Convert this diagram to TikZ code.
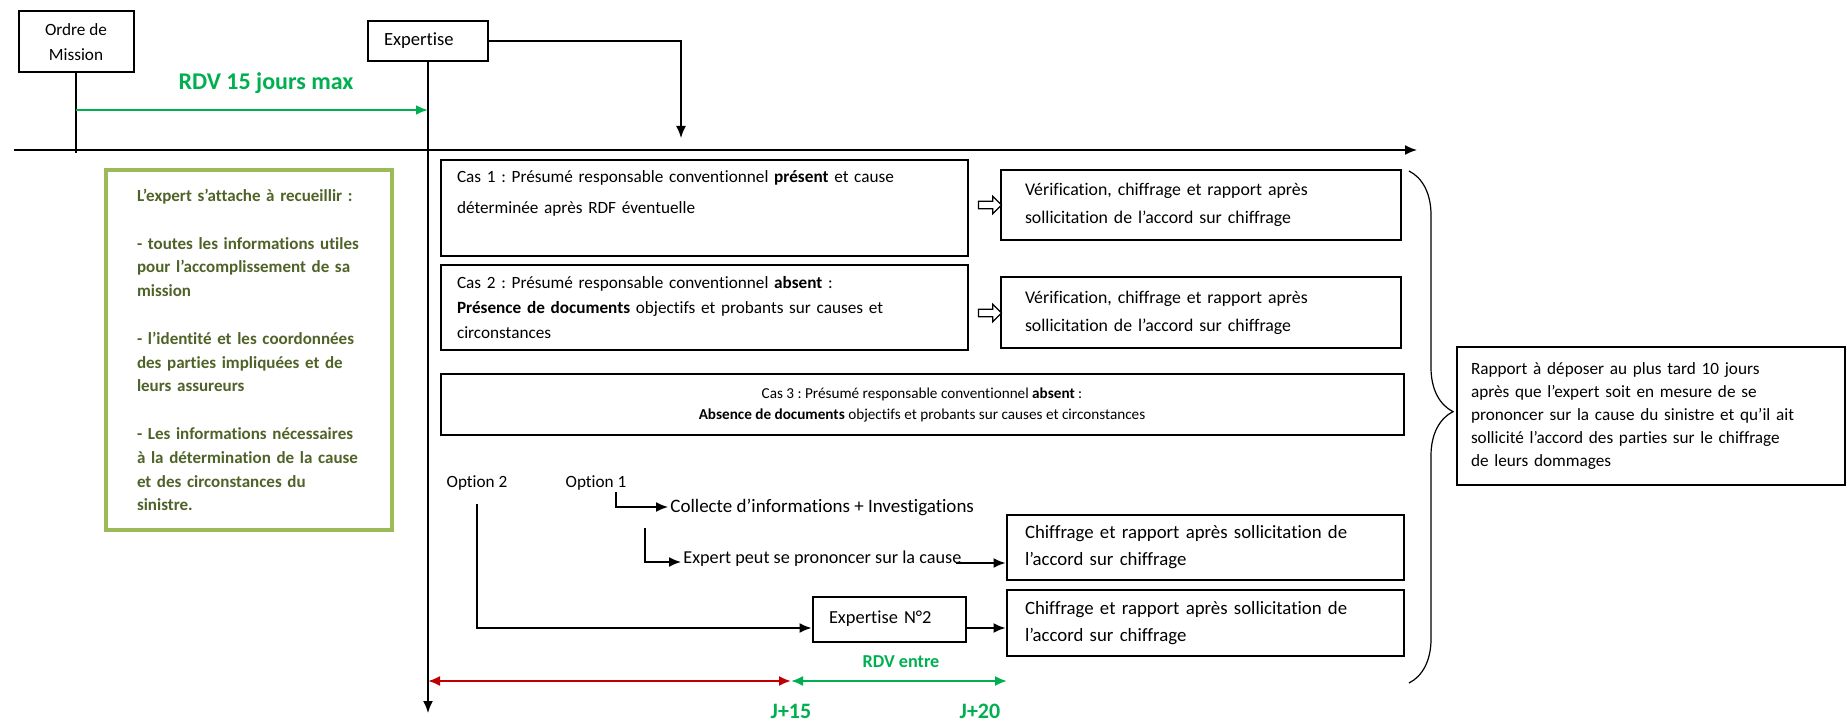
\documentclass[tikz,border=0pt]{standalone}
\usepackage{fontspec}
\setmainfont{Carlito}[Ligatures=NoCommon]
\frenchspacing
\usetikzlibrary{arrows.meta,decorations.pathreplacing,shapes.arrows}
\tikzset{>={Latex[width=5pt,length=6pt]}}
\definecolor{vertrdv}{HTML}{00B050}
\definecolor{rougerdv}{HTML}{C00000}
\definecolor{vertcadre}{HTML}{9BBB59}
\definecolor{verttexte}{HTML}{4F6228}

\begin{document}
\begin{tikzpicture}[x=0.5pt, y=-0.5pt,
  boite/.style={draw, line width=1pt, inner sep=0pt, align=left, font=\fontsize{8.6}{12.5}\selectfont},
  taille/.style 2 args={minimum width=#1*0.5pt, minimum height=#2*0.5pt},
  texte/.style={inner sep=1pt, font=\fontsize{8.6}{12.5}\selectfont},
  fleche/.style={->, line width=0.8pt},
  creuse/.style={single arrow, draw, line width=0.6pt, fill=white, inner sep=1.6pt,
    minimum height=11.5pt, single arrow head extend=2.4pt},
  vertgras/.style={text=vertrdv, font=\bfseries}]

  \useasboundingbox (0,0) rectangle (1847,721);

  %% boites du haut
  \node[boite, taille={115}{61}, align=center] (ordre) at (76,42) {Ordre de\\Mission};
  \node[boite, taille={120}{40}, text width=44pt, font=\fontsize{9.3}{11}\selectfont] (expertise) at (428,41) {Expertise};
  \node[vertgras, font=\fontsize{12}{14}\selectfont\bfseries] (rdv) at (266,83) {RDV 15 jours max};

  %% axe du temps
  \coordinate (t0) at (14,150);
  \coordinate (t1) at (1417,150);
  \coordinate (bas) at (428,713);
  \coordinate (ordrebas) at (76,153);
  \coordinate (expfleche) at (681,138);
  \draw[line width=0.8pt, ->] (t0) -- (t1);
  \draw[line width=0.8pt] (ordre) -- (ordrebas);
  \draw[fleche] (expertise) -- (bas);
  \draw[fleche] (expertise.east) -| (expfleche);
  \draw[->, vertrdv, line width=1.2pt] (ordre.south |- 0,110) -- (expertise.south |- 0,110);

  %% cadre vert
  \node[draw=vertcadre, line width=2pt, taille={286}{360}, inner sep=0pt, text width=112pt,
    align=left, text=verttexte, font=\fontsize{8.5}{11.9}\selectfont\bfseries] (expert) at (249,350)
    {L’expert s’attache à recueillir :\\[11.9pt]
     - toutes les informations utiles\\ pour l’accomplissement de sa\\ mission\\[11.9pt]
     - l’identité et les coordonnées\\ des parties impliquées et de\\ leurs assureurs\\[11.9pt]
     - Les informations nécessaires\\ à la détermination de la cause\\ et des circonstances du\\ sinistre.};

  %% les trois cas
  \node[boite, taille={527}{96}, text width=247pt] (cas1) at (704,208)
    {Cas 1 : Présumé responsable conventionnel \textbf{présent} et cause\\[3pt]
     déterminée après RDF éventuelle\\[3pt] \mbox{}};
  \node[boite, taille={527}{85}, text width=247pt] (cas2) at (704,308)
    {Cas 2 : Présumé responsable conventionnel \textbf{absent} :\\
     \textbf{Présence de documents} objectifs et probants sur causes et\\ circonstances};
  \node[boite, taille={963}{61}, align=center, font=\fontsize{7.6}{10.6}\selectfont] (cas3) at (922,405)
    {Cas 3 : Présumé responsable conventionnel \textbf{absent} :\\
     \textbf{Absence de documents} objectifs et probants sur causes et circonstances};

  \node[boite, taille={400}{70}, text width=176pt, font=\fontsize{8.9}{14}\selectfont] (verif1) at (1201,205)
    {Vérification, chiffrage et rapport après\\ sollicitation de l’accord sur chiffrage};
  \node[boite, taille={400}{71}, text width=176pt, font=\fontsize{8.9}{14}\selectfont] (verif2) at (1201,313)
    {Vérification, chiffrage et rapport après\\ sollicitation de l’accord sur chiffrage};
  \node[creuse] (creuse1) at (988,205) {};
  \node[creuse] (creuse2) at (988,313) {};

  %% rapport
  \node[boite, taille={388}{137}, text width=180pt, font=\fontsize{8.6}{11.4}\selectfont] (rapport) at (1651,416)
    {Rapport à déposer au plus tard 10 jours\\ après que l’expert soit en mesure de se\\
     prononcer sur la cause du sinistre et qu’il ait\\ sollicité l’accord des parties sur le chiffrage\\
     de leurs dommages};
  \draw[line width=0.6pt, decorate, decoration={brace, amplitude=22pt, aspect=0.47}]
    (1409,171) -- (1409,683);

  %% options du cas 3
  \node[texte] (opt2) at (477,483) {Option 2};
  \node[texte] (opt1) at (596,483) {Option 1};
  \node[texte, anchor=west, font=\fontsize{9.5}{12}\selectfont] (collecte) at (668,507) {Collecte d’informations + Investigations};
  \node[texte, anchor=west, font=\fontsize{9.1}{12}\selectfont] (prononce) at (681,559) {Expert peut se prononcer sur la cause};
  \node[boite, taille={397}{65}, text width=180pt, font=\fontsize{9.4}{13.5}\selectfont] (chif1) at (1205,547)
    {Chiffrage et rapport après sollicitation de\\ l’accord sur chiffrage};
  \node[boite, taille={397}{66}, text width=180pt, font=\fontsize{9.4}{13.5}\selectfont] (chif2) at (1205,623)
    {Chiffrage et rapport après sollicitation de\\ l’accord sur chiffrage};
  \node[boite, taille={153}{45}, text width=60pt, font=\fontsize{9.2}{11}\selectfont] (exp2) at (889,619) {Expertise N°2};

  \coordinate (o1haut) at (616,492);
  \coordinate (o1coin) at (616,507);
  \coordinate (o1bhaut) at (645,528);
  \coordinate (o1bcoin) at (645,562);
  \coordinate (o2haut) at (477,504);
  \coordinate (o2coin) at (477,628);
  \draw[fleche] (o1haut) -- (o1coin) -- (collecte.west);
  \draw[fleche] (o1bhaut) -- (o1bcoin) -- (prononce.west |- o1bcoin);
  \draw[fleche] ([xshift=-4pt, yshift=-2pt]prononce.east) -- (chif1.west |- 0,563);
  \draw[fleche] (o2haut) -- (o2coin) -- (exp2.west |- o2coin);
  \draw[fleche] (exp2.east |- o2coin) -- (chif2.west |- o2coin);

  %% delais
  \coordinate (j0) at (428,681);
  \coordinate (j15) at (791,681);
  \coordinate (j20) at (1007,681);
  \draw[<->, rougerdv, line width=1pt] (j0) -- (j15);
  \draw[<->, vertrdv, line width=1pt] (j15) -- (j20);
  \node[vertgras, font=\fontsize{9.1}{10}\selectfont\bfseries] (rdventre) at (901,662) {RDV entre};
  \node[vertgras, font=\fontsize{11}{12}\selectfont\bfseries] (j15txt) at (791,711) {J+15};
  \node[vertgras, font=\fontsize{11}{12}\selectfont\bfseries] (j20txt) at (980,711) {J+20};

\end{tikzpicture}
\end{document}
